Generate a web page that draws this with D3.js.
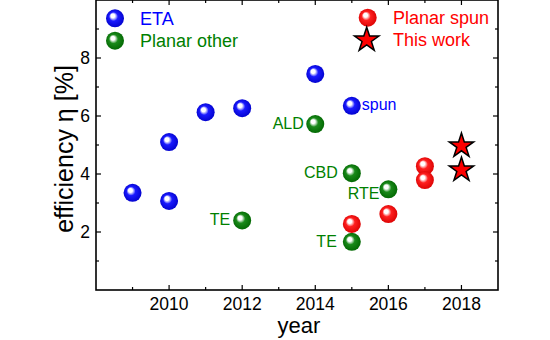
<!DOCTYPE html>
<html><head><meta charset="utf-8">
<script src="https://cdn.jsdelivr.net/npm/d3@7"></script>
<style>body{margin:0;background:#fff}svg{display:block}text{font-family:"Liberation Sans",Arial,sans-serif}</style>
</head><body><svg id="c" width="550" height="340"></svg>
<script>
const etaYears = [2009, 2010, 2010, 2011, 2012, 2014, 2015];
const etaValues = [3.35, 3.07, 5.1, 6.13, 6.27, 7.45, 6.35];
const otherYears = [2012, 2014, 2015, 2015, 2016];
const otherValues = [2.4, 5.72, 4.03, 1.66, 3.47];
const otherLabels = ["TE", "ALD", "CBD", "TE", "RTE"];
const spunYears = [2015, 2016, 2017, 2017];
const spunValues = [2.28, 2.62, 4.27, 3.79];
const workYears = [2018, 2018];
const workValues = [4.97, 4.14];
const xTicks = [2010, 2012, 2014, 2016, 2018];
const yTicks = [2, 4, 6, 8];

const svg = d3.select("#c");
const L = 96, R = 498, T = 0, B = 290;
const x = d3.scaleLinear().domain([2008, 2019]).range([L, R]);
const y = d3.scaleLinear().domain([0, 10]).range([B, T]);

const defs = svg.append("defs");
function grad(id, base, dark) {
  const g = defs.append("radialGradient").attr("id", id)
    .attr("cx", "50%").attr("cy", "50%").attr("r", "55%")
    .attr("fx", "35%").attr("fy", "33%");
  g.append("stop").attr("offset", "0%").attr("stop-color", "#fff");
  g.append("stop").attr("offset", "20%").attr("stop-color", "#fff").attr("stop-opacity", 0.9);
  g.append("stop").attr("offset", "45%").attr("stop-color", base);
  g.append("stop").attr("offset", "100%").attr("stop-color", dark);
}
grad("gb", "#1a1aff", "#0000c8");
grad("gg", "#1a8a1a", "#006400");
grad("gr", "#ff2020", "#d80000");

// axes
const ax = svg.append("g");
const minorX = d3.range(2009, 2019, 2);
const minorY = d3.range(1, 10, 2);
const majLen = 5, minLen = 3;
function tickLines(vals, len, scale, isX) {
  vals.forEach(v => {
    if (isX) {
      ax.append("line").attr("x1", scale(v)).attr("x2", scale(v)).attr("y1", B).attr("y2", B - len).attr("stroke", "#000").attr("stroke-width", 1.2);
      ax.append("line").attr("x1", scale(v)).attr("x2", scale(v)).attr("y1", T).attr("y2", T + len).attr("stroke", "#000").attr("stroke-width", 1.2);
    } else {
      ax.append("line").attr("y1", scale(v)).attr("y2", scale(v)).attr("x1", L).attr("x2", L + len).attr("stroke", "#000").attr("stroke-width", 1.2);
      ax.append("line").attr("y1", scale(v)).attr("y2", scale(v)).attr("x1", R).attr("x2", R - len).attr("stroke", "#000").attr("stroke-width", 1.2);
    }
  });
}
tickLines(xTicks, majLen, x, true);
tickLines(minorX, minLen, x, true);
tickLines(yTicks, majLen, y, false);
tickLines(minorY, minLen, y, false);
ax.append("rect").attr("x", L).attr("y", T).attr("width", R - L).attr("height", B - T)
  .attr("fill", "none").attr("stroke", "#000").attr("stroke-width", 1.6);

ax.selectAll(".xt").data(xTicks).join("text").attr("x", d => x(d)).attr("y", B + 20)
  .attr("text-anchor", "middle").attr("font-size", 17.5).text(d => d);
ax.selectAll(".yt").data(yTicks).join("text").attr("x", L - 6).attr("y", d => y(d) + 6)
  .attr("text-anchor", "end").attr("font-size", 17.5).text(d => d);

svg.append("text").attr("x", 299).attr("y", 333).attr("text-anchor", "middle").attr("font-size", 22).text("year");
svg.append("text").attr("transform", "translate(73,149) rotate(-90)").attr("text-anchor", "middle")
  .attr("font-size", 25).text("efficiency \u03b7 [%]");

const rr = 9;
function spheres(xs, vs, fill) {
  svg.append("g").selectAll("circle").data(xs.map((d, i) => [d, vs[i]])).join("circle")
    .attr("cx", d => x(d[0])).attr("cy", d => y(d[1])).attr("r", rr).attr("fill", fill);
}
spheres(etaYears, etaValues, "url(#gb)");
spheres(otherYears, otherValues, "url(#gg)");
spheres(spunYears, spunValues, "url(#gr)");

const star = d3.symbol().type(d3.symbolStar).size(185);
svg.append("g").selectAll("path").data(workYears.map((d, i) => [d, workValues[i]])).join("path")
  .attr("transform", d => `translate(${x(d[0])},${y(d[1])})`).attr("d", star)
  .attr("fill", "#ff0000").attr("stroke", "#000").attr("stroke-width", 1.5);

// annotations
const green = "#008000";
const lblOff = [[-12, 5], [-11.5, 4.5], [-14, 5], [-15, 5], [-9, 9.5]];
otherLabels.forEach((t, i) => {
  svg.append("text").attr("x", x(otherYears[i]) + lblOff[i][0]).attr("y", y(otherValues[i]) + lblOff[i][1])
    .attr("text-anchor", "end").attr("font-size", 16).attr("fill", green).text(t);
});
svg.append("text").attr("x", x(2015) + 10).attr("y", y(6.35) + 4.5).attr("font-size", 16).attr("fill", "#0000ff").text("spun");

// legend
svg.append("circle").attr("cx", 115).attr("cy", 18.3).attr("r", rr).attr("fill", "url(#gb)");
svg.append("text").attr("x", 140).attr("y", 25).attr("font-size", 18).attr("fill", "#0000ff").text("ETA");
svg.append("circle").attr("cx", 115).attr("cy", 40.7).attr("r", rr).attr("fill", "url(#gg)");
svg.append("text").attr("x", 140).attr("y", 47).attr("font-size", 18).attr("fill", green).text("Planar other");
svg.append("circle").attr("cx", 367.7).attr("cy", 17.7).attr("r", rr).attr("fill", "url(#gr)");
svg.append("text").attr("x", 393).attr("y", 24).attr("font-size", 18).attr("fill", "#ff0000").text("Planar spun");
svg.append("path").attr("transform", "translate(366.7,40)").attr("d", star)
  .attr("fill", "#ff0000").attr("stroke", "#000").attr("stroke-width", 1.5);
svg.append("text").attr("x", 393).attr("y", 45.5).attr("font-size", 18).attr("fill", "#ff0000").text("This work");
</script></body></html>
